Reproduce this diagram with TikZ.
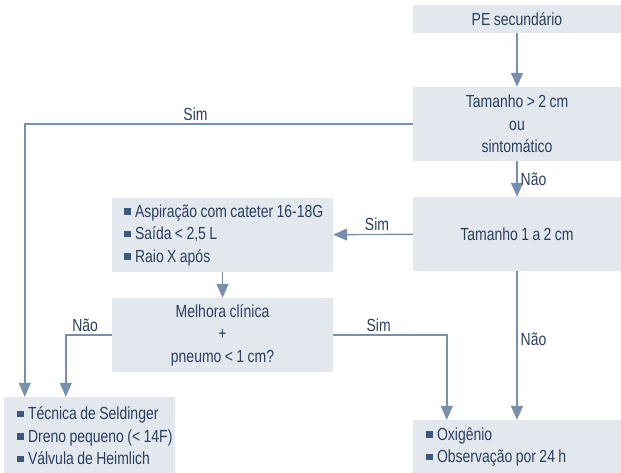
\documentclass[tikz,border=0pt]{standalone}
\usepackage{fontspec}
\setmainfont{Liberation Sans}[FakeStretch=0.8,WordSpace=0.8]
\usetikzlibrary{arrows.meta,positioning}
\definecolor{boxfill}{HTML}{E3E8EF}
\definecolor{linecol}{HTML}{7890AD}
\definecolor{txtcol}{HTML}{2B3F5C}
\definecolor{bulcol}{HTML}{3D5878}
\newcommand{\flowfont}{\fontsize{17.5}{22.5}\selectfont\spaceskip=3.4pt plus 1pt minus 1pt\relax}
\newcommand{\itm}[1]{\mbox{\spaceskip=3.4pt\relax\textcolor{bulcol}{\raisebox{2.5pt}{\rule{6.5pt}{6.5pt}}}\hspace{4.5pt}#1}}
\tikzset{
  flowbox/.style={fill=boxfill,inner sep=0pt,align=center,text=txtcol},
  listbox/.style={flowbox,align=left,inner xsep=12pt},
  flowline/.style={color=linecol,line width=1.4pt,-{Triangle[width=12pt,length=14pt]}},
  tag/.style={text=txtcol,inner sep=3pt},
}

\begin{document}
\begin{tikzpicture}[x=1pt,y=-1pt,font=\flowfont]
	\useasboundingbox (0,0) rectangle (621,472);
	\node[flowbox,minimum width=208pt,minimum height=28pt] (pe) at(517,19){PE secundário};
	\node[flowbox,minimum width=208pt,minimum height=74pt] (big) at(517,124){Tamanho > 2 cm\\ou\\sintomático};
	\node[flowbox,minimum width=208pt,minimum height=74pt] (mid) at(517,234){Tamanho 1 a 2 cm};
	\node[listbox,text width=197pt,minimum height=74pt] (asp) at(222.5,235){\itm{Aspiração com cateter 16-18G}\\\itm{Saída < 2,5 L}\\\itm{Raio X após}};
	\node[flowbox,minimum width=221pt,minimum height=74pt] (mel) at(222.5,335){Melhora clínica\\+\\pneumo < 1 cm?};
	\node[listbox,text width=145pt,minimum height=78pt,inner xsep=13pt] (tec) at(89.5,436){\itm{Técnica de Seldinger}\\\itm{Dreno pequeno (< 14F)}\\\itm{Válvula de Heimlich}};
	\node[listbox,text width=182pt,minimum height=54pt,inner xsep=13pt] (oxi) at(517,447){\itm{Oxigênio}\\\itm{Observação por 24 h}};

	\path[flowline]
		(pe) edge (big)
		(big) edge node[tag,right] {Não} (mid)
		(mid) edge node[tag,above,pos=0.45] {Sim} (asp)
		(asp) edge (mel)
		(mid) edge node[tag,right,pos=0.46] {Não} (oxi);
	\draw[flowline] (big.west) -| node[tag,above,pos=0.28] {Sim} ([xshift=21pt]tec.north west);
	\draw[flowline] (mel.west) -| node[tag,above,pos=0.29] {Não} ([xshift=62pt]tec.north west);
	\draw[flowline] (mel.east) -| node[tag,above,pos=0.2] {Sim} ([xshift=34pt]oxi.north west);
\end{tikzpicture}
\end{document}
